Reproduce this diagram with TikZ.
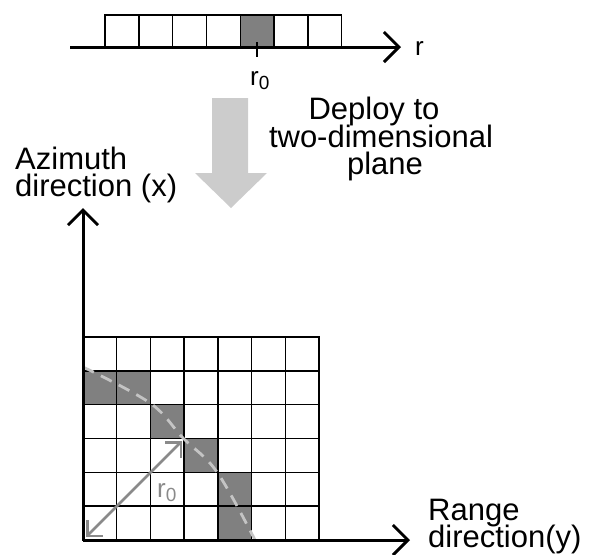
\documentclass[tikz,border=0pt]{standalone}
\usepackage{fontspec}
\setmainfont{Liberation Sans}
\usetikzlibrary{arrows.meta}
\definecolor{cellgray}{HTML}{808080}
\definecolor{biggray}{HTML}{CCCCCC}
\definecolor{dashgray}{HTML}{C4C4C4}
\definecolor{arrgray}{HTML}{8A8A8A}
\tikzset{
  axis/.style={line width=3pt, -{Straight Barb[length=15pt,width=30pt,line width=3pt]}},
  cellbox/.style={draw=black, line width=1.4pt},
  shaded/.style={fill=cellgray},
  lbl/.style={inner sep=0pt, font=\fontsize{31pt}{27pt}\selectfont},
  smalllbl/.style={inner sep=0pt, font=\fontsize{26pt}{26pt}\selectfont},
}
\begin{document}
\begin{tikzpicture}[x=1pt,y=-1pt]
\useasboundingbox (0,0) rectangle (590,555);
% ---------- top strip ----------
\def\cw{33.8}
\fill[cellgray] (105+4*\cw,15) rectangle (105+5*\cw,47);
\foreach \i in {0,...,6} {
  \draw[cellbox] (105+\i*\cw,15) rectangle (105+\i*\cw+\cw,47);
}
\coordinate (ta) at (70,47);
\coordinate (tb) at (401,47);
\draw[axis] (ta) -- (tb);
\coordinate (tk1) at (257,42);
\coordinate (tk2) at (257,57);
\draw[line width=2pt] (tk1) -- (tk2);
\node[smalllbl, anchor=base west] (rlab) at (415,55) {r};
\node[smalllbl, anchor=base west] (r0top) at (250,85) {r\textsubscript{\fontsize{19pt}{19pt}\selectfont 0}};
% ---------- big down arrow ----------
\fill[biggray] (212,98) -- (248,98) -- (248,173) -- (267,173) -- (231,208) -- (195,173) -- (212,173) -- cycle;
\node[lbl, anchor=base] (d1) at (374,119) {Deploy to};
\node[lbl, anchor=base] (d2) at (381,147) {two-dimensional};
\node[lbl, anchor=base] (d3) at (385,174) {plane};
% ---------- labels ----------
\node[lbl, anchor=base west] (az1) at (15,169) {Azimuth};
\node[lbl, anchor=base west] (az2) at (15,196) {direction (x)};
\node[lbl, anchor=base west] (rg1) at (428,520) {Range};
\node[lbl, anchor=base west] (rg2) at (428,547) {direction(y)};
% ---------- grid ----------
\def\gw{33.7}
\def\gh{33.83}
\foreach \c/\r in {0/1,1/1,2/2,3/3,4/4,4/5} {
  \fill[cellgray] (83+\c*\gw,337+\r*\gh) rectangle (83+\c*\gw+\gw,337+\r*\gh+\gh);
}
\foreach \c in {0,...,6} {
  \foreach \r in {0,...,5} {
    \draw[cellbox] (83+\c*\gw,337+\r*\gh) rectangle (83+\c*\gw+\gw,337+\r*\gh+\gh);
  }
}
% dashed curve
\draw[dashgray, line width=2.8pt, dash pattern=on 12pt off 8pt]
  plot[smooth, tension=0.6] coordinates {(83,367) (150,403) (183,438) (217,472) (255,540)};
% axes
\coordinate (o) at (83,540);
\coordinate (ay) at (83,208);
\coordinate (ax) at (410,540);
\draw[axis] (o) -- (ay);
\draw[axis] (o) -- (ax);
% r0 arrow
\coordinate (ra) at (86,537);
\coordinate (rb) at (182,441);
\draw[arrgray, line width=2.5pt, {Straight Barb[length=11pt,width=22pt,line width=2.5pt]}-{Straight Barb[length=11pt,width=22pt,line width=2.5pt]}] (ra) -- (rb);
\node[smalllbl, text=arrgray, anchor=base west] (r0grid) at (157,497) {r\textsubscript{\fontsize{19pt}{19pt}\selectfont 0}};
\end{tikzpicture}
\end{document}
